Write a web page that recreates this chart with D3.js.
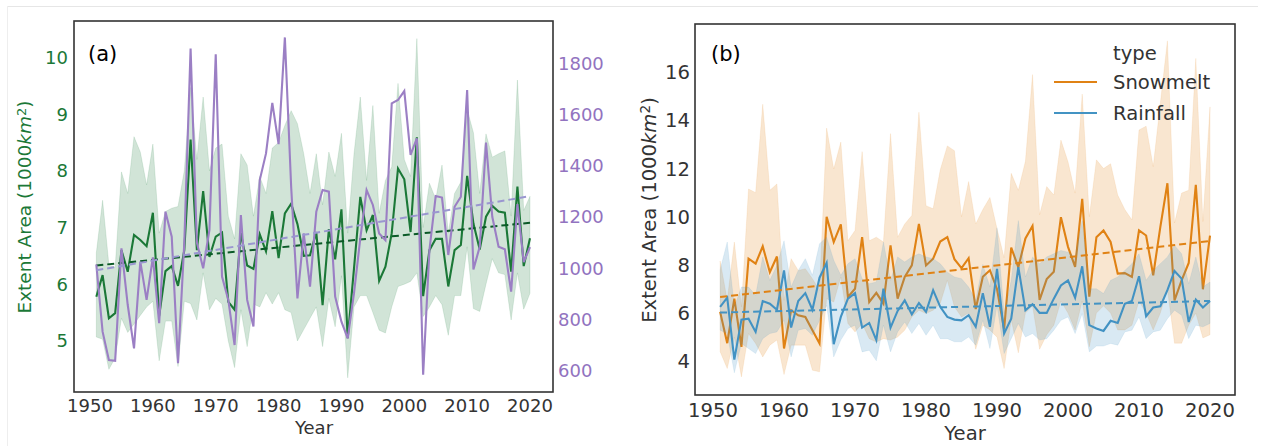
<!DOCTYPE html>
<html>
<head>
<meta charset="utf-8">
<script src="https://cdn.jsdelivr.net/npm/d3@7"></script>
<style>
  body { margin: 0; background: #fff; }
  svg { font-family: "DejaVu Sans", sans-serif; }
</style>
</head>
<body>
<svg id="chart" width="1266" height="446"></svg>
<script>
const svg = d3.select('#chart');

// ---- data ----
const years = d3.range(1951, 2021);

const greenMean = [5.78, 6.16, 5.40, 5.49, 6.60, 6.22, 6.87, 6.78, 6.67, 7.26,
    5.44, 6.23, 6.32, 5.97, 6.60, 8.55, 6.60, 7.64, 6.48, 6.84,
    6.91, 5.69, 5.55, 6.90, 6.33, 6.27, 6.88, 6.58, 7.29, 6.46,
    7.25, 7.42, 7.06, 6.50, 6.51, 6.92, 5.63, 6.97, 6.44, 7.32,
    5.05, 6.28, 7.54, 6.95, 7.22, 6.06, 6.31, 6.90, 8.04, 7.85,
    6.92, 8.59, 5.79, 6.60, 6.80, 6.80, 5.96, 6.60, 6.69, 7.91,
    7.07, 6.61, 7.19, 7.38, 7.28, 7.26, 6.22, 7.72, 6.32, 6.81];
const greenLow = [5.07, 5.03, 4.50, 4.70, 5.40, 5.15, 5.30, 5.45, 5.60, 5.70,
    4.65, 5.35, 5.35, 4.55, 5.70, 5.66, 5.37, 6.20, 5.55, 5.75,
    5.65, 5.00, 4.53, 5.55, 4.90, 5.65, 5.60, 5.85, 5.65, 5.85,
    5.55, 5.50, 5.00, 5.20, 5.40, 5.60, 4.90, 5.75, 5.25, 6.15,
    4.35, 5.60, 5.80, 5.80, 5.50, 5.19, 5.14, 5.60, 5.96, 6.00,
    6.05, 6.20, 5.43, 5.60, 5.80, 5.64, 5.10, 5.80, 5.80, 6.66,
    5.57, 5.52, 6.00, 6.45, 6.20, 6.17, 5.37, 6.20, 5.56, 5.84];
const greenHigh = [6.55, 7.48, 6.34, 6.30, 7.98, 7.60, 8.60, 8.33, 7.75, 8.47,
    6.90, 7.28, 7.34, 7.37, 8.00, 9.47, 8.20, 9.30, 8.00, 8.40,
    8.47, 7.20, 6.80, 8.30, 8.10, 7.20, 7.90, 7.60, 8.40, 8.50,
    8.80, 9.06, 8.83, 8.30, 7.60, 8.30, 7.40, 8.33, 7.90, 8.66,
    6.90, 8.30, 9.30, 7.83, 9.15, 7.25, 7.83, 8.07, 9.54, 8.20,
    7.90, 10.33, 7.00, 7.78, 7.50, 8.10, 6.90, 7.60, 7.80, 9.08,
    8.67, 7.60, 8.65, 8.24, 8.30, 8.35, 7.20, 9.60, 7.30, 7.55];
const purpleVals = [1015, 753, 643, 640, 1078, 857, 688, 1026, 877, 1043,
    786, 1221, 1123, 630, 1100, 1857, 1100, 1000, 1150, 1834,
    968, 877, 701, 1208, 877, 773, 1344, 1448, 1645, 1484,
    1900, 1318, 883, 1136, 929, 1221, 1305, 1299, 890, 792,
    727, 903, 1117, 1305, 1247, 1136, 1110, 1643, 1656, 1691,
    1442, 1507, 585, 1071, 1282, 1276, 1052, 1240, 1279, 1695,
    996, 1084, 1490, 1201, 1084, 1074, 909, 1250, 1024, 1083];

const snowMean = [6.05, 4.75, 6.60, 4.60, 8.26, 8.05, 8.77, 7.70, 8.35, 4.53,
    6.12, 5.91, 5.84, 5.29, 4.74, 10.00, 8.95, 9.68, 6.67, 7.01,
    9.15, 6.46, 6.84, 6.39, 8.81, 6.60, 7.50, 7.98, 9.70, 7.98,
    8.26, 8.97, 9.15, 8.24, 7.87, 8.28, 6.17, 7.51, 7.78, 7.00,
    5.33, 8.72, 7.90, 9.10, 9.62, 6.55, 7.41, 7.72, 9.98, 8.75,
    7.92, 10.74, 6.68, 9.15, 9.43, 8.95, 7.64, 7.66, 7.50, 9.43,
    9.22, 7.57, 9.57, 11.39, 6.53, 7.36, 8.08, 11.32, 6.99, 9.22];
const snowLow = [4.40, 3.70, 5.00, 3.35, 5.15, 4.74, 4.18, 4.67, 4.88, 3.45,
    4.67, 4.67, 4.67, 3.63, 3.56, 6.60, 6.46, 7.50, 5.57, 5.22,
    5.57, 4.94, 4.80, 4.94, 4.88, 5.01, 5.29, 5.84, 6.12, 5.98,
    6.12, 6.40, 7.36, 6.26, 5.84, 6.00, 4.50, 5.50, 5.30, 5.00,
    3.70, 5.73, 4.35, 6.00, 6.30, 4.50, 5.10, 5.50, 6.50, 6.00,
    5.30, 6.50, 4.60, 6.00, 6.30, 6.00, 5.30, 5.30, 5.50, 6.50,
    6.00, 5.30, 6.00, 7.00, 4.75, 4.75, 5.50, 6.00, 4.97, 5.10];
const snowHigh = [8.16, 6.53, 8.95, 6.26, 11.15, 11.00, 14.67, 11.10, 11.36, 6.53,
    8.26, 7.77, 7.84, 7.43, 6.95, 13.68, 11.98, 13.10, 9.00, 9.43,
    12.70, 9.00, 9.15, 8.95, 13.45, 9.15, 9.70, 10.05, 14.34, 10.46,
    10.33, 11.94, 12.94, 12.74, 10.00, 11.46, 9.70, 10.30, 10.80, 9.50,
    8.30, 11.80, 11.10, 12.30, 15.90, 10.08, 11.25, 10.90, 13.18, 12.28,
    10.98, 15.09, 10.00, 12.36, 12.00, 12.20, 10.90, 10.30, 9.87, 13.60,
    13.76, 12.08, 14.70, 17.30, 9.74, 10.98, 11.10, 16.57, 9.80, 14.56];

const rainMean = [6.26, 6.64, 4.07, 5.73, 5.77, 5.22, 6.50, 6.39, 6.14, 7.77,
    5.40, 6.50, 6.83, 6.14, 7.47, 8.08, 4.71, 5.84, 6.60, 6.83,
    5.40, 5.59, 4.88, 7.01, 5.40, 6.09, 6.53, 5.95, 6.42, 6.05,
    6.95, 6.26, 5.84, 5.73, 5.70, 5.91, 5.43, 6.83, 5.43, 7.84,
    5.15, 5.77, 7.91, 6.12, 6.37, 6.01, 6.01, 6.60, 7.15, 7.36,
    6.64, 7.94, 5.50, 5.36, 5.26, 5.68, 5.59, 6.39, 6.50, 7.53,
    5.87, 6.23, 6.28, 6.95, 7.75, 7.43, 5.63, 6.56, 6.23, 6.50];
const rainLow = [5.29, 5.15, 3.52, 4.74, 4.53, 4.32, 4.94, 5.15, 5.22, 5.70,
    4.18, 5.29, 5.36, 5.08, 5.70, 6.32, 4.18, 4.88, 5.36, 5.50,
    4.39, 4.46, 4.02, 5.50, 4.39, 5.22, 5.63, 5.15, 5.57, 5.08,
    5.50, 4.94, 4.94, 4.81, 4.81, 5.01, 4.67, 5.70, 4.53, 6.32,
    4.32, 4.94, 5.57, 5.01, 5.15, 4.88, 4.94, 5.29, 5.70, 5.84,
    5.15, 5.98, 4.39, 4.63, 4.63, 4.74, 4.67, 5.22, 5.29, 5.84,
    4.94, 5.22, 5.29, 5.77, 6.12, 5.91, 4.94, 5.50, 5.43, 5.57];
const rainHigh = [7.80, 8.95, 6.26, 7.08, 7.08, 6.74, 8.33, 7.36, 7.98, 9.00,
    7.08, 7.77, 8.26, 7.57, 8.88, 9.15, 8.19, 7.57, 8.05, 8.26,
    7.43, 7.22, 7.29, 8.95, 7.36, 8.33, 8.12, 8.33, 8.46, 8.33,
    8.26, 8.05, 7.70, 7.50, 7.43, 7.08, 6.53, 8.02, 7.08, 9.54,
    5.98, 7.36, 9.84, 7.50, 8.33, 8.05, 8.33, 8.46, 8.60, 8.53,
    8.33, 9.84, 7.01, 7.01, 6.81, 7.36, 7.50, 7.77, 8.05, 8.46,
    7.36, 7.77, 8.05, 8.33, 8.81, 8.46, 7.22, 8.33, 7.08, 7.29];

const yearTicks = [1950, 1960, 1970, 1980, 1990, 2000, 2010, 2020];
const greenTicks = [5, 6, 7, 8, 9, 10];
const purpleTicks = [600, 800, 1000, 1200, 1400, 1600, 1800];
const rightTicks = [4, 6, 8, 10, 12, 14, 16];
const legendLabels = ['Snowmelt', 'Rainfall'];

// ---- helpers ----
// least squares trend, like the dashed lines in the figure
function fitLine(xs, ys) {
    const mx = d3.mean(xs), my = d3.mean(ys);
    const b = d3.sum(xs, (x, i) => (x - mx) * (ys[i] - my)) / d3.sum(xs, x => (x - mx) * (x - mx));
    return x => my + b * (x - mx);
}

function tickText(g, scale, ticks, opts) {
    g.selectAll(null).data(ticks).enter().append('text')
        .attr('x', d => opts.horiz ? scale(d) : opts.pos)
        .attr('y', d => opts.horiz ? opts.pos : scale(d))
        .attr('dy', opts.horiz ? 0 : '0.36em')
        .attr('text-anchor', opts.anchor)
        .style('font-size', opts.size + 'px')
        .attr('fill', opts.color)
        .text(d => d);
}

function yLabel(x, y, size, color) {
    const t = svg.append('text')
        .attr('transform', `translate(${x},${y}) rotate(-90)`)
        .attr('text-anchor', 'middle')
        .style('font-size', size + 'px')
        .attr('fill', color);
    t.append('tspan').text('Extent Area (1000');
    t.append('tspan').style('font-style', 'italic').text('km');
    t.append('tspan').attr('baseline-shift', '40%').style('font-size', (size * 0.7) + 'px').text('2');
    t.append('tspan').text(')');
}

// faint figure frame
svg.append('line').attr('x1', 7).attr('x2', 1258).attr('y1', 6.5).attr('y2', 6.5)
    .attr('stroke', '#e6e6e6').attr('stroke-width', 1);
svg.append('line').attr('x1', 7.5).attr('x2', 7.5).attr('y1', 6).attr('y2', 446)
    .attr('stroke', '#eeeeee').attr('stroke-width', 1);

//-------------------------------- PANEL (a) --------------------------------//
const A = {left: 74, right: 553, top: 21, bottom: 392};
const xA = d3.scaleLinear().domain([1947.45, 2023.66]).range([A.left, A.right]);
const yG = d3.scaleLinear().domain([4.1, 10.64]).range([A.bottom, A.top]);
const yP = d3.scaleLinear().domain([518, 1964]).range([A.bottom, A.top]);

const gA = svg.append('g');
gA.append('path')
    .datum(years)
    .attr('fill', '#1b7837').attr('fill-opacity', 0.2)
    .attr('stroke', '#1b7837').attr('stroke-opacity', 0.12)
    .attr('d', d3.area().x(d => xA(d)).y0((d, i) => yG(greenLow[i])).y1((d, i) => yG(greenHigh[i])));

gA.append('path')
    .datum(years)
    .attr('fill', 'none').attr('stroke', '#1b7837').attr('stroke-width', 2.1)
    .attr('d', d3.line().x(d => xA(d)).y((d, i) => yG(greenMean[i])));

const gFit = fitLine(years, greenMean);
gA.append('line')
    .attr('x1', xA(1951)).attr('x2', xA(2020))
    .attr('y1', yG(gFit(1951))).attr('y2', yG(gFit(2020)))
    .attr('stroke', '#0b5a27').attr('stroke-width', 2).attr('stroke-dasharray', '7,4');

gA.append('path')
    .datum(years)
    .attr('fill', 'none').attr('stroke', '#9b7fc4').attr('stroke-width', 2.1)
    .attr('d', d3.line().x(d => xA(d)).y((d, i) => yP(purpleVals[i])));

const pFit = fitLine(years, purpleVals);
gA.append('line')
    .attr('x1', xA(1951)).attr('x2', xA(2020))
    .attr('y1', yP(pFit(1951))).attr('y2', yP(pFit(2020)))
    .attr('stroke', '#9a96d0').attr('stroke-width', 2).attr('stroke-dasharray', '7,4');

gA.append('rect')
    .attr('x', A.left).attr('y', A.top)
    .attr('width', A.right - A.left).attr('height', A.bottom - A.top)
    .attr('fill', 'none').attr('stroke', '#333').attr('stroke-width', 1.6);

tickText(gA, xA, yearTicks, {horiz: true, pos: 412, anchor: 'middle', size: 18, color: '#333'});
tickText(gA, yG, greenTicks, {horiz: false, pos: 68, anchor: 'end', size: 18, color: '#1b7837'});
tickText(gA, yP, purpleTicks, {horiz: false, pos: 558, anchor: 'start', size: 18, color: '#9273c0'});

gA.append('text').attr('x', 314).attr('y', 434).attr('text-anchor', 'middle')
    .style('font-size', '18px').attr('fill', '#333').text('Year');
yLabel(31, 207, 18.5, '#1b7837');
gA.append('text').attr('x', 88).attr('y', 61)
    .style('font-size', '21px').attr('fill', '#000').text('(a)');

//-------------------------------- PANEL (b) --------------------------------//
const B = {left: 695, right: 1235, top: 24, bottom: 395};
const xB = d3.scaleLinear().domain([1947.46, 2023.52]).range([B.left, B.right]);
const yB = d3.scaleLinear().domain([2.6, 18]).range([B.bottom, B.top]);

const series = [
    {name: 'Snowmelt', color: '#e08214', mean: snowMean, low: snowLow, high: snowHigh},
    {name: 'Rainfall', color: '#4393c3', mean: rainMean, low: rainLow, high: rainHigh}
];

const gB = svg.append('g');
series.forEach(s => {
    gB.append('path')
        .datum(years)
        .attr('fill', 'none').attr('stroke', s.color).attr('stroke-width', 2.1)
        .attr('d', d3.line().x(d => xB(d)).y((d, i) => yB(s.mean[i])));
    gB.append('path')
        .datum(years)
        .attr('fill', s.color).attr('fill-opacity', 0.2)
        .attr('stroke', s.color).attr('stroke-opacity', 0.1)
        .attr('d', d3.area().x(d => xB(d)).y0((d, i) => yB(s.low[i])).y1((d, i) => yB(s.high[i])));
});
series.forEach(s => {
    const f = fitLine(years, s.mean);
    gB.append('line')
        .attr('x1', xB(1951)).attr('x2', xB(2020))
        .attr('y1', yB(f(1951))).attr('y2', yB(f(2020)))
        .attr('stroke', s.color).attr('stroke-width', 2).attr('stroke-dasharray', '7,4');
});

gB.append('rect')
    .attr('x', B.left).attr('y', B.top)
    .attr('width', B.right - B.left).attr('height', B.bottom - B.top)
    .attr('fill', 'none').attr('stroke', '#333').attr('stroke-width', 1.6);

tickText(gB, xB, yearTicks, {horiz: true, pos: 417, anchor: 'middle', size: 19.6, color: '#333'});
tickText(gB, yB, rightTicks, {horiz: false, pos: 690, anchor: 'end', size: 19.6, color: '#333'});

gB.append('text').attr('x', 965).attr('y', 440).attr('text-anchor', 'middle')
    .style('font-size', '19.6px').attr('fill', '#333').text('Year');
yLabel(656, 210, 19.6, '#333');
gB.append('text').attr('x', 711).attr('y', 61)
    .style('font-size', '21px').attr('fill', '#000').text('(b)');

// legend
const leg = gB.append('g');
leg.append('text').attr('x', 1113).attr('y', 60)
    .style('font-size', '19.6px').attr('fill', '#333').text('type');
legendLabels.forEach((lab, i) => {
    const s = series[i];
    const y = 82 + i * 31;
    leg.append('line').attr('x1', 1054).attr('x2', 1097).attr('y1', y).attr('y2', y)
        .attr('stroke', s.color).attr('stroke-width', 2);
    leg.append('text').attr('x', 1113).attr('y', y).attr('dy', '0.36em')
        .style('font-size', '19.6px').attr('fill', '#333').text(lab);
});
</script>
</body>
</html>
